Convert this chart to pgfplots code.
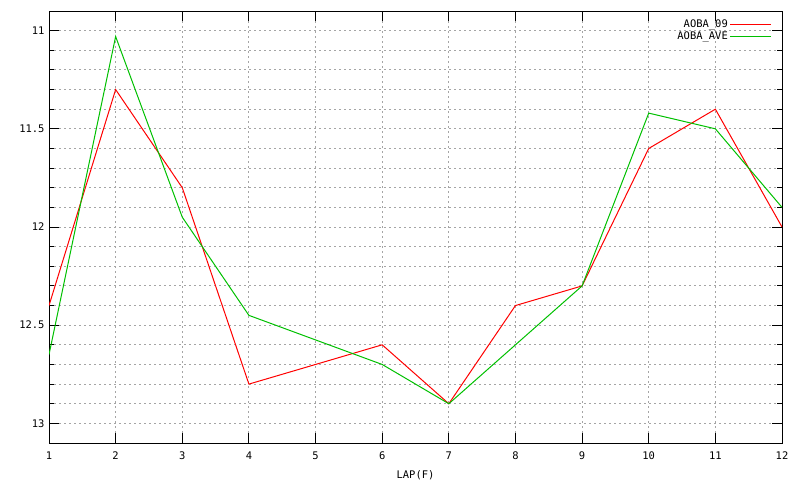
\documentclass[border=0pt]{standalone}
\usepackage{pgfplots}
\pgfplotsset{compat=1.18}
\usepackage{fontspec}
\setmainfont{DejaVu Sans Mono}
\definecolor{gpred}{RGB}{255,0,0}
\definecolor{gpgreen}{RGB}{0,192,0}
\definecolor{gpgrid}{RGB}{165,165,165}
\begin{document}
\begin{tikzpicture}
\path[use as bounding box] (-49bp,-37bp) rectangle (751bp,443bp);
\begin{axis}[
    scale only axis,
    width=733bp, height=432bp,
    xmin=1, xmax=12,
    ymin=10.9, ymax=13.1,
    y dir=reverse,
    xtick={1,...,12},
    ytick={11,11.5,12,12.5,13},
    minor y tick num=4,
    grid=both,
    major grid style={gpgrid, line width=1bp, dash pattern=on 2bp off 3bp},
    minor grid style={gpgrid, line width=1bp, dash pattern=on 2bp off 3bp},
    axis line style={line width=1bp},
    tick style={black, line width=1bp},
    major tick length=10bp,
    minor tick length=5bp,
    tick pos=both,
    tick align=inside,
    font=\fontsize{10.5}{12}\selectfont,
    /pgf/number format/assume math mode=true,
    xticklabel style={yshift=-5bp},
    yticklabel style={xshift=-1bp},
    xlabel={LAP(F)},
    xlabel style={yshift=-4bp},
    legend style={draw=none, fill=none, at={(1,1)}, anchor=north east,
        xshift=-7bp, yshift=-5bp, row sep=-1.5bp,
        font=\fontsize{10.5}{12}\selectfont},
    legend cell align=right,
    legend plot pos=right,
    legend image code/.code={\path (0bp,0bp) -- (41bp,0bp);
        \draw[#1] (6bp,0bp) -- (41bp,0bp);},
]
\addplot[gpred, line width=1bp] coordinates {
    (1,12.4) (2,11.3) (3,11.8) (4,12.8) (5,12.7) (6,12.6)
    (7,12.9) (8,12.4) (9,12.3) (10,11.6) (11,11.4) (12,12.0)
};
\addplot[gpgreen, line width=1bp] coordinates {
    (1,12.65) (2,11.03) (3,11.95) (4,12.45) (5,12.575) (6,12.7)
    (7,12.9) (8,12.6) (9,12.3) (10,11.42) (11,11.5) (12,11.9)
};
\legend{AOBA\_09,AOBA\_AVE}
\end{axis}
\end{tikzpicture}
\end{document}
